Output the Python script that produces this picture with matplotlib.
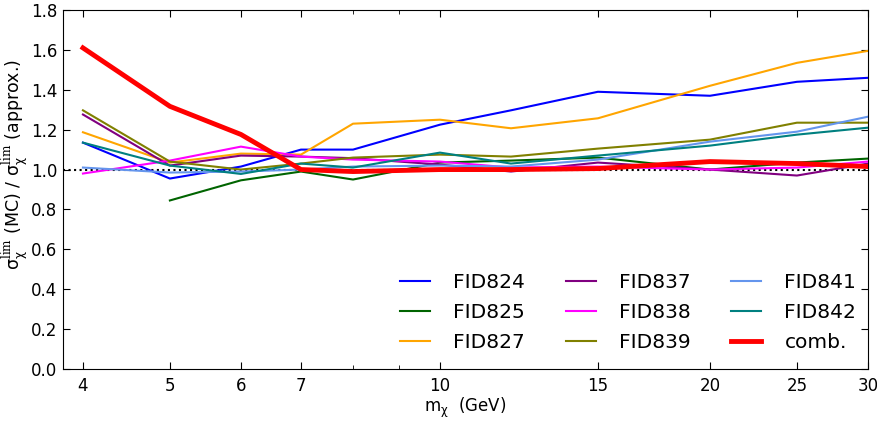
import numpy as np
import matplotlib
matplotlib.use("Agg")
import matplotlib.pyplot as plt
from matplotlib.ticker import FixedLocator, FixedFormatter, NullFormatter

# mathtext: sigma/chi upright sans, "lim" in serif
plt.rcParams['mathtext.fontset'] = 'custom'
plt.rcParams['mathtext.rm'] = 'DejaVu Serif'
plt.rcParams['mathtext.default'] = 'regular'
plt.rcParams['font.family'] = ['DejaVu Sans']

# WIMP masses (GeV)
masses = [4, 5, 6, 7, 8, 10, 12, 15, 20, 25, 30]

# ratio MC / approx. limit per detector
fid824 = [1.135, 0.955, 1.015, 1.10, 1.10, 1.225, 1.297, 1.39, 1.37, 1.44, 1.46]
fid825 = [np.nan, 0.845, 0.946, 0.99, 0.95, 1.035, 1.045, 1.06, 1.0, 1.035, 1.055]
fid827 = [1.187, 1.035, 1.08, 1.075, 1.23, 1.25, 1.207, 1.257, 1.42, 1.535, 1.595]
fid837 = [1.276, 1.02, 1.07, 1.065, 1.057, 1.025, 0.99, 1.035, 1.0, 0.97, 1.03]
fid838 = [0.98, 1.045, 1.115, 1.065, 1.05, 1.04, 1.01, 1.015, 1.0, 1.01, 1.04]
fid839 = [1.297, 1.04, 1.0, 1.03, 1.06, 1.075, 1.065, 1.105, 1.15, 1.235, 1.235]
fid841 = [1.01, 0.985, 0.99, 1.0, 1.015, 1.02, 1.015, 1.05, 1.14, 1.19, 1.265]
fid842 = [1.135, 1.02, 0.978, 1.03, 1.01, 1.085, 1.03, 1.07, 1.12, 1.175, 1.21]
comb = [1.61, 1.317, 1.176, 1.0, 0.99, 1.0, 1.0, 1.005, 1.04, 1.03, 1.015]

series = [
    ("FID824", fid824, "blue"),
    ("FID825", fid825, "darkgreen"),
    ("FID827", fid827, "orange"),
    ("FID837", fid837, "purple"),
    ("FID838", fid838, "magenta"),
    ("FID839", fid839, "olive"),
    ("FID841", fid841, "cornflowerblue"),
    ("FID842", fid842, "teal"),
]

xticks = [4, 5, 6, 7, 10, 15, 20, 25, 30]
yticks = [0.0, 0.2, 0.4, 0.6, 0.8, 1.0, 1.2, 1.4, 1.6, 1.8]

fig = plt.figure(figsize=(8.77, 4.22), dpi=100)
ax = fig.add_axes([0.0718, 0.1256, 0.9179, 0.8507])

ax.axhline(1.0, color="black", ls=":", lw=1.5, zorder=1)
for name, vals, col in series:
    ax.plot(masses, vals, color=col, lw=1.5, label=name)
ax.plot(masses, comb, color="red", lw=3.5, label="comb.")

ax.set_xscale("log")
ax.set_xlim(3.8, 30)
ax.set_ylim(0, 1.8)
ax.xaxis.set_major_locator(FixedLocator(xticks))
ax.xaxis.set_major_formatter(FixedFormatter([str(t) for t in xticks]))
ax.xaxis.set_minor_locator(FixedLocator([8, 9]))
ax.xaxis.set_minor_formatter(NullFormatter())
ax.set_yticks(yticks)
ax.set_yticklabels(["%.1f" % t for t in yticks])
ax.tick_params(which="both", direction="in", top=True, right=True, labelsize=12)
ax.tick_params(which="major", length=5)
ax.tick_params(axis="x", which="major", pad=6)
ax.tick_params(axis="y", which="major", pad=4)
ax.tick_params(which="minor", length=3)

ax.set_xlabel(r"$m_\chi$  (GeV)", fontsize=12, labelpad=0)
ax.set_ylabel(r"$\sigma_\chi^{\mathrm{lim}}$ (MC) / $\sigma_\chi^{\mathrm{lim}}$ (approx.)", fontsize=12.5)
ax.yaxis.set_label_coords(-0.04, 0.57)

ax.legend(loc="lower right", ncol=3, frameon=False, fontsize=14.5,
          handlelength=1.5, handletextpad=1.15, columnspacing=2.0,
          labelspacing=0.55, bbox_to_anchor=(1.008, -0.003))

fig.savefig("out.png", dpi=100, facecolor="white")
